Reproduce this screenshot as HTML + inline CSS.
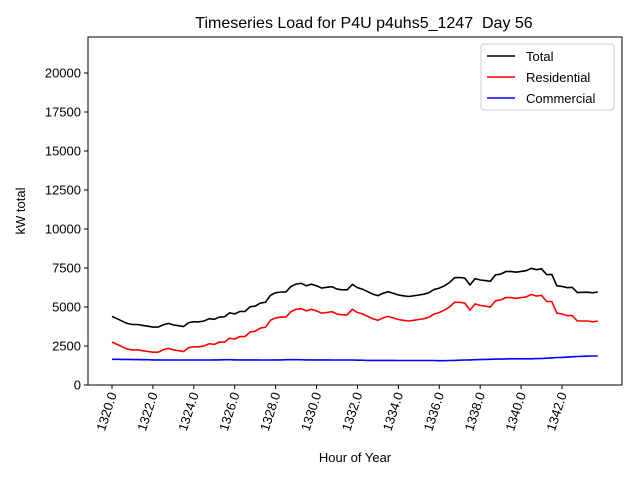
<!DOCTYPE html>
<html><head><meta charset="utf-8"><style>
body{margin:0;background:#fff;font-family:"Liberation Sans","DejaVu Sans",sans-serif}
svg text{font-family:"Liberation Sans","DejaVu Sans",sans-serif;white-space:pre}
</style></head><body>
<svg id="c" width="640" height="480" xmlns="http://www.w3.org/2000/svg"></svg>
<script>
const residential=[2750,2600,2450,2300,2250,2250,2200,2150,2100,2100,2250,2350,2250,2200,2150,2400,
2450,2450,2500,2650,2600,2750,2750,3000,2950,3100,3100,3400,3450,3650,3700,4150,
4300,4350,4350,4700,4850,4900,4750,4850,4750,4600,4650,4700,4550,4500,4500,4850,
4650,4550,4400,4250,4150,4300,4400,4300,4200,4150,4100,4150,4200,4250,4350,4550,
4650,4800,5000,5300,5300,5250,4800,5200,5100,5050,5000,5400,5450,5600,5600,5550,
5600,5650,5800,5700,5750,5350,5350,4600,4550,4450,4450,4100,4100,4100,4050,4100];
const commercial=[1650,1650,1640,1640,1630,1630,1620,1620,1610,1610,1600,1600,1600,1600,1600,1600,
1600,1600,1600,1600,1610,1610,1620,1620,1610,1610,1610,1610,1610,1600,1600,1600,
1610,1610,1620,1620,1620,1620,1610,1610,1610,1610,1610,1600,1600,1600,1600,1600,
1590,1590,1580,1580,1580,1580,1580,1580,1570,1570,1570,1570,1570,1570,1570,1570,
1560,1560,1570,1580,1590,1600,1610,1620,1630,1640,1650,1660,1660,1670,1680,1680,
1680,1680,1680,1690,1700,1720,1740,1760,1770,1790,1810,1830,1840,1850,1860,1860];
const startHour=1320, step=0.25;
const yTicks=[0,2500,5000,7500,10000,12500,15000,17500,20000];
const xTicks=[1320,1322,1324,1326,1328,1330,1332,1334,1336,1338,1340,1342];
const L=88,R=622,T=37,B=385;
const X=h=>112+(h-1320)*(450/22);
const Y=v=>385-v*0.0156;
const svg=document.getElementById('c');
const NS="http://www.w3.org/2000/svg";
function el(tag,attrs,parent){const e=document.createElementNS(NS,tag);for(const k in attrs)e.setAttribute(k,attrs[k]);(parent||svg).appendChild(e);return e;}
let t=el('text',{x:364,y:28,'text-anchor':'middle','font-size':16});
t.textContent='Timeseries Load for P4U p4uhs5_1247  Day 56';


let frame=el('rect',{x:L,y:T,width:R-L,height:B-T,fill:'none',stroke:'#000','stroke-width':1});


yTicks.forEach(v=>{
  el('line',{x1:L-4,x2:L,y1:Y(v),y2:Y(v),stroke:'#000'});
  const tx=el('text',{x:L-7,y:Y(v)+4.5,'text-anchor':'end','font-size':13});
  tx.textContent=v;
  
  
});
xTicks.forEach(h=>{
  el('line',{x1:X(h),x2:X(h),y1:B,y2:B+4,stroke:'#000'});
  const tx=el('text',{x:0,y:0,'text-anchor':'end','font-size':13,transform:`translate(${X(h)+5},${B+9}) rotate(-72)`});
  tx.textContent=h.toFixed(1);
  
  
});
let xl=el('text',{x:355,y:462,'text-anchor':'middle','font-size':13});xl.textContent='Hour of Year';


let yl=el('text',{x:0,y:0,'text-anchor':'middle','font-size':13,transform:'translate(25,211) rotate(-90)'});yl.textContent='kW total';


const total=residential.map((r,i)=>r+commercial[i]);
function line(vals,color,name){
  const pts=vals.map((v,i)=>X(startHour+i*step).toFixed(1)+','+Y(v).toFixed(1)).join(' ');
  const p=el('polyline',{points:pts,fill:'none',stroke:color,'stroke-width':1.6});
  
  
}
line(total,'#000','total-line');
line(residential,'#f00','residential-line');
line(commercial,'#00f','commercial-line');
const lg=el('g',{});


el('rect',{x:481,y:44,width:133,height:66,rx:3,fill:'#fff',stroke:'#ccc'},lg);
[['Total','#000'],['Residential','#f00'],['Commercial','#00f']].forEach((d,i)=>{
  const y=56+i*21;
  el('line',{x1:487,x2:515,y1:y,y2:y,stroke:d[1],'stroke-width':1.6},lg);
  const tx=el('text',{x:526,y:y+5,'font-size':13},lg);tx.textContent=d[0];
  
  
});
</script>
</body></html>
